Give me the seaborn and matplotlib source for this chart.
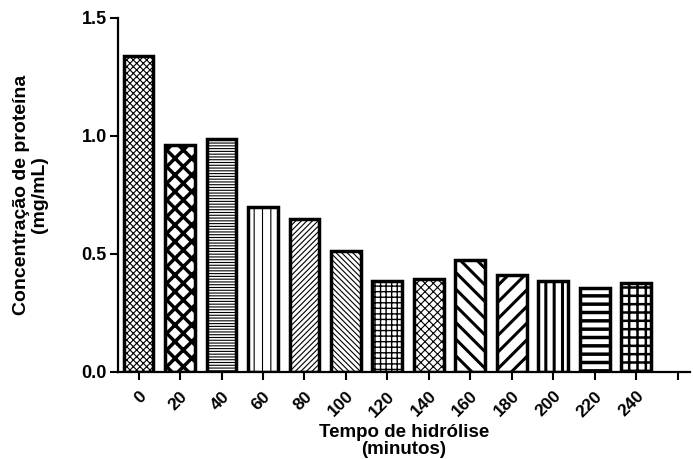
import matplotlib
matplotlib.use("Agg")
import matplotlib.pyplot as plt
import seaborn as sns

# data
tempos = ["0", "20", "40", "60", "80", "100", "120", "140", "160", "180", "200", "220", "240"]
concentracao = [1.34, 0.96, 0.985, 0.70, 0.648, 0.512, 0.386, 0.392, 0.474, 0.41, 0.385, 0.356, 0.376]
hatches = ["xxxxx", "xx", "------", "||", "//////", "\\\\\\\\\\\\", "+++", "xxxx",
           "\\\\", "//", "||", "--", "++"]
hatch_lw = [0.8, 2.5, 0.8, 0.8, 0.8, 0.8, 1.0, 0.8, 2.2, 2.2, 2.2, 2.5, 1.8]

sns.set_style("ticks")
plt.rcParams["font.family"] = ["Liberation Sans", "DejaVu Sans"]
plt.rcParams["font.weight"] = "bold"
plt.rcParams["text.color"] = "black"
plt.rcParams["axes.labelcolor"] = "black"
plt.rcParams["xtick.color"] = "black"
plt.rcParams["ytick.color"] = "black"

fig = plt.figure(figsize=(6.93, 4.59), dpi=100)
ax = fig.add_axes([0.170, 0.190, 0.826, 0.771])

sns.barplot(x=tempos, y=concentracao, color="white", edgecolor="black",
            linewidth=2.5, width=0.72, ax=ax)

for bar, h, lw in zip(ax.patches, hatches, hatch_lw):
    bar.set_hatch(h)
    if hasattr(bar, "set_hatch_linewidth"):
        bar.set_hatch_linewidth(lw)

ax.set_xlim(-0.5, 13.3)
ax.set_ylim(0, 1.5)
ax.set_xticks(range(len(tempos) + 1))
ax.set_xticklabels(tempos + [""], rotation=45, ha="right", rotation_mode="anchor",
                   fontsize=12.5, fontweight="bold", color="black")
ax.set_yticks([0, 0.5, 1.0, 1.5])
ax.set_yticklabels(["0.0", "0.5", "1.0", "1.5"], fontsize=13, fontweight="bold", color="black")
ax.tick_params(axis="both", width=1.5, length=6, color="black")
ax.tick_params(axis="x", pad=6)
ax.tick_params(axis="y", pad=2)

for s in ["top", "right"]:
    ax.spines[s].set_visible(False)
for s in ["left", "bottom"]:
    ax.spines[s].set_linewidth(1.6)
    ax.spines[s].set_color("black")

ax.set_xlabel("Tempo de hidrólise\n(minutos)", fontsize=13.5, fontweight="bold",
              linespacing=1.0, labelpad=3, color="black")
ax.set_ylabel("Concentração de proteína\n(mg/mL)", fontsize=14, fontweight="bold",
              linespacing=1.05, labelpad=24, color="black")

fig.savefig("out.png", dpi=100)
